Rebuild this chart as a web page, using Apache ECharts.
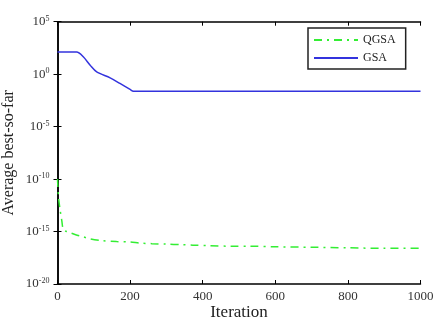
<!DOCTYPE html>
<html><head><meta charset="utf-8">
<script src="https://cdn.jsdelivr.net/npm/echarts@6/dist/echarts.min.js"></script>
<style>html,body{margin:0;padding:0;background:#fff}#c{width:438px;height:320px}</style>
</head><body><div id="c"></div>
<script>
const qgsaIter = [0,3,7,12,16,25,34,50,70,90,120,163,200,227,260,300,340,373,420,480,530,600,700,800,900,1000];
const qgsaVal = [1e-10,1.6e-12,1.3e-13,1e-14,1.6e-15,1e-15,8e-16,5e-16,3.2e-16,2e-16,1.4e-16,1.1e-16,1e-16,8e-17,7e-17,6.3e-17,5.6e-17,5e-17,4.5e-17,4e-17,4e-17,3.5e-17,3.2e-17,2.8e-17,2.5e-17,2.5e-17];
const gsaIter = [0,20,40,53,71,90,108,145,172,200,209,220,300,400,500,600,700,800,900,1000];
const gsaVal = [126,126,126,126,45,7.2,1.66,0.45,0.13,0.035,0.024,0.024,0.024,0.024,0.024,0.024,0.024,0.024,0.024,0.024];
const xTicks = [0,200,400,600,800,1000];
const yTickExps = [-20,-15,-10,-5,0,5];

const font = '"Liberation Serif","Times New Roman",serif';
const chart = echarts.init(document.getElementById('c'), null, {renderer:'canvas'});
const zip = (a,b)=>a.map((v,i)=>[v,b[i]]);
const axisLine = {show:true,lineStyle:{color:'#000',width:1.5}};
const yLab = {
  fontFamily:font, color:'#333', margin:8,
  formatter:v=>{const e=Math.round(Math.log10(v));return '{b|10}{s|'+e+'}';},
  rich:{b:{fontFamily:font,fontSize:13,color:'#333'},s:{fontFamily:font,fontSize:8,color:'#333',verticalAlign:'top',padding:[0,0,6,0]}}
};
chart.setOption({
  animation:false,
  grid:{left:57.5,right:17.5,top:21.7,bottom:36,containLabel:false,outerBoundsMode:'none'},
  legend:{
    left:308, top:28, width:107, orient:'vertical', itemWidth:44, itemHeight:10, itemGap:6,
    padding:[6,10,5,5], borderColor:'#222', borderWidth:1.5, backgroundColor:'#fff',
    textStyle:{fontFamily:font,fontSize:12,color:'#222'},
    itemStyle:{opacity:0},
    data:['QGSA','GSA']
  },
  xAxis:[{
    type:'value', min:0, max:1000, interval:200,
    name:'Iteration', nameLocation:'middle', nameGap:20, nameMoveOverlap:false,
    nameTextStyle:{fontFamily:font,fontSize:17,color:'#222'},
    axisLine, axisTick:{show:true,inside:true,length:4,lineStyle:{color:'#000'}},
    axisLabel:{fontFamily:font,fontSize:13,color:'#333',margin:6,formatter:v=>String(v)},
    splitLine:{show:false}
  },{
    type:'value', min:0, max:1000, interval:200, position:'top',
    axisLine, axisTick:{show:true,inside:true,length:4,lineStyle:{color:'#000'}},
    axisLabel:{show:false}, splitLine:{show:false}
  }],
  yAxis:[{
    type:'log', logBase:10, min:1e-20, max:1e5, interval:5,
    name:'Average best-so-far', nameLocation:'middle', nameGap:41, nameMoveOverlap:false,
    nameTextStyle:{fontFamily:font,fontSize:16,color:'#222'},
    axisLine, axisTick:{show:true,inside:true,length:4,lineStyle:{color:'#000'}},
    axisLabel:yLab, splitLine:{show:false}, minorTick:{show:false}
  },{
    type:'log', logBase:10, min:1e-20, max:1e5, interval:5, position:'right',
    axisLine, axisTick:{show:true,inside:true,length:4,lineStyle:{color:'#000'}},
    axisLabel:{show:false}, splitLine:{show:false}
  }],
  series:[{
    name:'QGSA', type:'line', data:zip(qgsaIter,qgsaVal), symbol:'none', smooth:0.3,
    lineStyle:{color:'#33ee33',width:1.5,type:[8,5,2,5]}, itemStyle:{color:'#33ee33'}
  },{
    name:'GSA', type:'line', data:zip(gsaIter,gsaVal), symbol:'none', smooth:0.3,
    lineStyle:{color:'#3333dd',width:1.5}, itemStyle:{color:'#3333dd'}
  }]
});
</script></body></html>
